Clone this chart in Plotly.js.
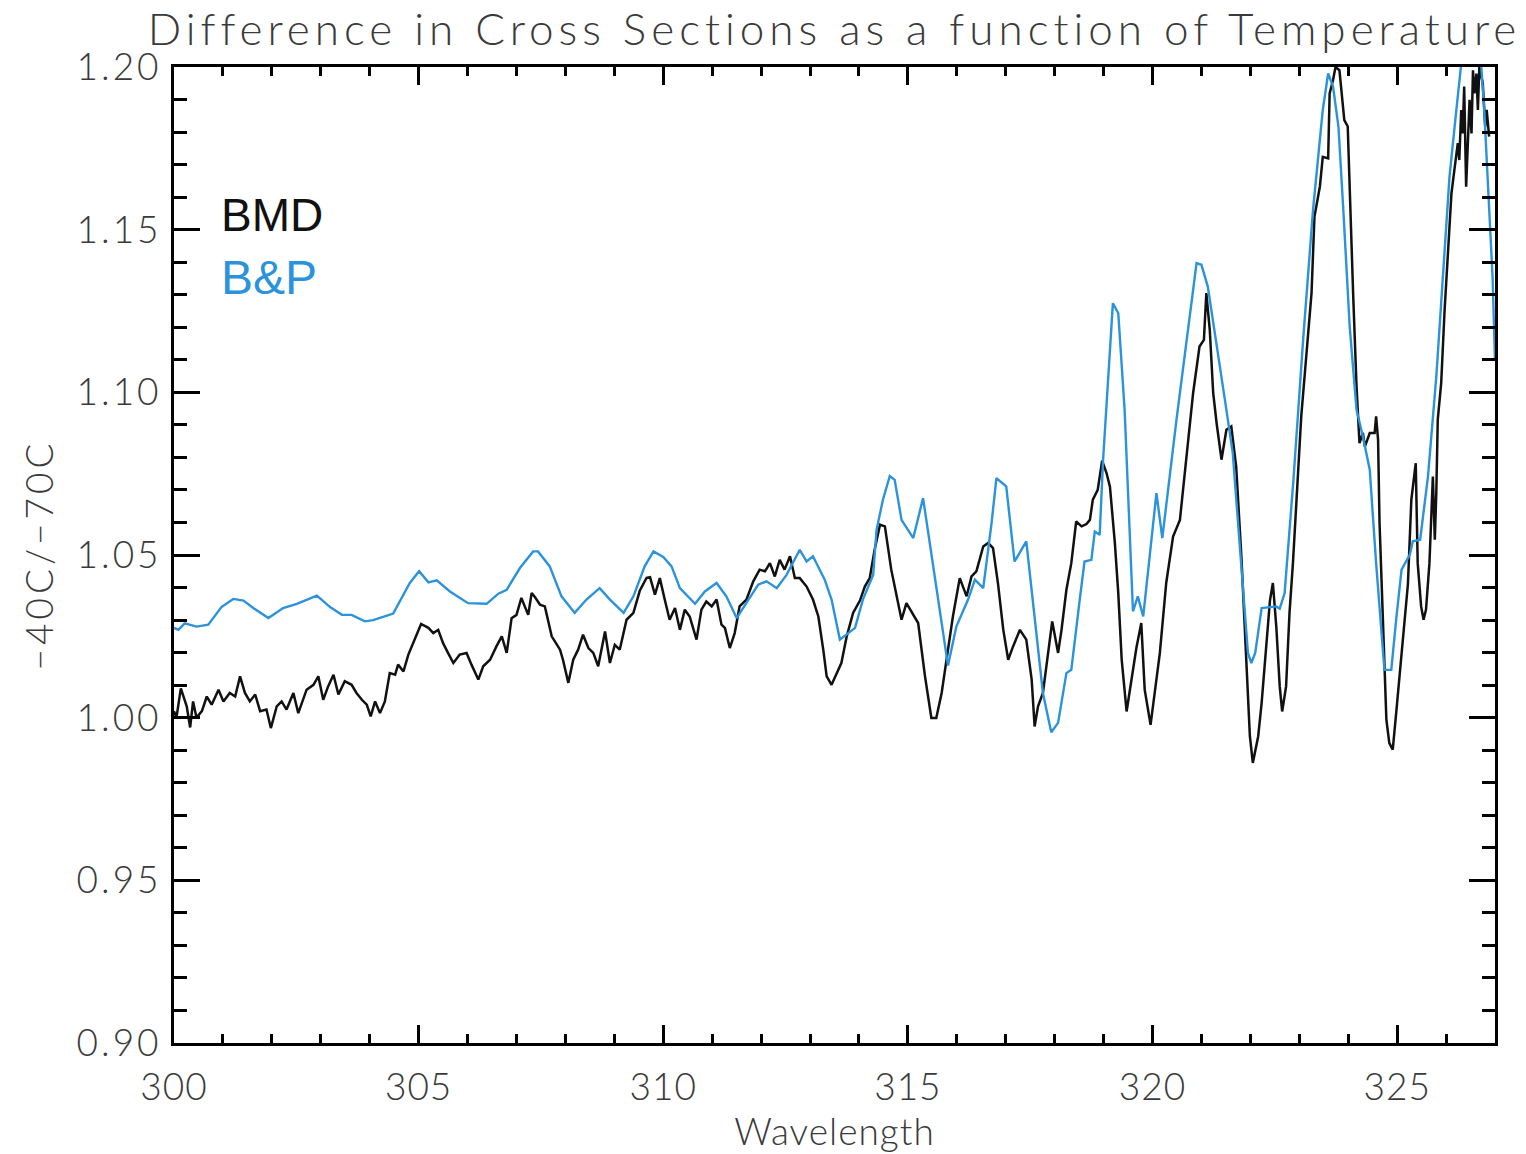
<!DOCTYPE html>
<html>
<head>
<meta charset="utf-8">
<script src="https://cdn.plot.ly/plotly-3.0.1.min.js"></script>
<style>
html,body{margin:0;padding:0;background:#fff;}
#chart{width:1526px;height:1154px;}
#chart .gtitle{letter-spacing:5px;}
#chart .ytitle{letter-spacing:4px;}
#chart .xtitle{letter-spacing:1px;}
#chart .ytick text, #chart text.ytick{letter-spacing:3px;}
#chart .xtick text, #chart text.xtick{letter-spacing:1px;}
</style>
</head>
<body>
<div id="chart"></div>
<script>
// BMD series (black)
const bmdWavelength = [
300.00,300.05,300.14,300.26,300.33,300.39,300.46,300.57,300.67,300.77,300.91,301.01,301.14,301.25,301.35,301.45,301.55,301.66,301.76,301.89,301.98,
302.10,302.20,302.30,302.44,302.54,302.71,302.85,302.95,303.05,303.15,303.26,303.36,303.49,303.63,303.73,303.84,303.94,304.02,304.11,304.21,304.31,
304.41,304.52,304.58,304.69,304.79,304.89,305.05,305.20,305.30,305.40,305.50,305.60,305.71,305.84,305.98,306.08,306.22,306.32,306.46,306.59,306.70,
306.80,306.90,307.00,307.10,307.24,307.31,307.38,307.48,307.58,307.72,307.89,307.95,308.06,308.16,308.26,308.36,308.47,308.57,308.67,308.81,308.91,
309.01,309.11,309.25,309.39,309.52,309.66,309.73,309.83,309.93,310.03,310.13,310.24,310.34,310.44,310.54,310.68,310.78,310.88,310.99,311.09,311.19,
311.26,311.36,311.46,311.56,311.70,311.84,311.97,312.08,312.18,312.28,312.38,312.48,312.59,312.69,312.79,312.93,313.06,313.17,313.27,313.34,313.44,
313.54,313.64,313.75,313.88,314.02,314.12,314.22,314.32,314.43,314.53,314.66,314.77,314.87,314.97,315.07,315.21,315.35,315.48,315.58,315.69,315.82,
315.92,316.06,316.20,316.30,316.40,316.54,316.64,316.74,316.84,316.95,317.05,317.15,317.29,317.42,317.53,317.59,317.66,317.76,317.86,317.95,318.07,
318.14,318.24,318.34,318.44,318.55,318.65,318.72,318.78,318.88,318.97,319.06,319.13,319.23,319.30,319.37,319.47,319.53,319.60,319.67,319.77,319.84,
319.96,320.04,320.15,320.28,320.42,320.56,320.69,320.83,320.96,321.05,321.10,321.17,321.24,321.31,321.41,321.51,321.61,321.71,321.82,321.92,321.99,
322.05,322.16,322.23,322.33,322.40,322.46,322.53,322.60,322.65,322.73,322.80,322.87,322.97,323.04,323.25,323.31,323.42,323.48,323.59,323.62,323.69,
323.74,323.82,323.85,323.92,323.99,324.03,324.10,324.17,324.23,324.30,324.34,324.44,324.54,324.57,324.61,324.64,324.71,324.78,324.84,324.91,324.98,
325.09,325.15,325.22,325.29,325.32,325.38,325.42,325.49,325.54,325.59,325.66,325.70,325.73,325.77,325.80,325.83,325.90,325.97,326.04,326.11,326.17,
326.24,326.27,326.31,326.34,326.37,326.41,326.44,326.48,326.52,326.55,326.58,326.62,326.65,326.68,326.75,326.80,326.83,326.88];
const bmdRatio = [
1.002,1.000,1.009,1.0035,0.997,1.005,1.000,1.002,1.0065,1.004,1.0086,1.005,1.0076,1.0065,1.0127,1.0076,1.005,1.0071,1.002,1.0025,0.9968,
1.0035,1.005,1.0025,1.0076,1.0014,1.0086,1.0101,1.0127,1.0055,1.0096,1.0132,1.0071,1.0112,1.0101,1.0076,1.0055,1.004,1.0004,1.005,1.0014,1.005,
1.0137,1.0132,1.0163,1.0142,1.0194,1.0229,1.0288,1.0276,1.026,1.027,1.0229,1.0199,1.0168,1.0194,1.0199,1.0163,1.0117,1.0158,1.0178,1.0219,1.025,
1.0199,1.0306,1.0316,1.0368,1.0316,1.0383,1.037,1.0347,1.0342,1.025,1.0209,1.0178,1.0107,1.0178,1.0209,1.0255,1.0214,1.0199,1.0158,1.0265,1.0168,
1.0224,1.0209,1.0301,1.0322,1.039,1.043,1.0432,1.0378,1.0429,1.0363,1.0301,1.0337,1.027,1.0332,1.0311,1.024,1.0332,1.0357,1.0342,1.0363,1.0286,
1.0276,1.0214,1.026,1.0342,1.0363,1.0419,1.0455,1.045,1.0475,1.0434,1.0485,1.0455,1.0496,1.0429,1.0429,1.0403,1.0363,1.0311,1.0209,1.0127,1.0101,
1.0137,1.0168,1.025,1.0322,1.036,1.0403,1.0429,1.0516,1.0593,1.0588,1.0455,1.0373,1.0301,1.0352,1.0327,1.0291,1.0127,0.9999,0.9999,1.0076,1.0209,
1.0311,1.0429,1.0373,1.0434,1.045,1.0526,1.0537,1.0521,1.0414,1.027,1.0178,1.0219,1.027,1.024,1.0117,0.9973,1.0035,1.0076,1.0199,1.0296,1.0199,
1.027,1.0393,1.0475,1.0603,1.0588,1.0595,1.0608,1.067,1.070,1.079,1.0752,1.071,1.0537,1.0383,1.0178,1.0019,1.0076,1.0147,1.0214,1.0291,1.0086,
0.9978,1.0076,1.0199,1.0414,1.0557,1.0608,1.0803,1.0998,1.1141,1.1161,1.1305,1.1192,1.0998,1.0905,1.0793,1.0885,1.0895,1.0772,1.0485,1.0178,0.9943,
0.9861,0.9943,1.0045,1.024,1.036,1.0414,1.028,1.0096,1.0019,1.0096,1.0322,1.0475,1.0731,1.0926,1.1305,1.154,1.1632,1.1724,1.1719,1.1919,1.196,
1.2,1.199,1.194,1.1837,1.1817,1.1612,1.1305,1.1018,1.0844,1.0875,1.0833,1.0875,1.0875,1.0926,1.0854,1.060,1.0322,0.9994,0.9922,0.9902,1.0014,
1.0199,1.030,1.041,1.067,1.071,1.0782,1.0475,1.0342,1.0301,1.0332,1.0475,1.063,1.0741,1.0547,1.069,1.0916,1.1028,1.1253,1.1448,1.1612,1.1684,
1.1766,1.1714,1.1868,1.1796,1.194,1.1632,1.1735,1.1899,1.1796,1.199,1.1919,1.198,1.1868,1.2,1.195,1.1817,1.1868,1.1786];

// B&P series (blue)
const bpWavelength = [
300.00,300.09,300.22,300.46,300.70,300.97,301.21,301.42,301.62,301.93,302.23,302.51,302.92,303.19,303.43,303.63,303.90,304.07,304.48,304.65,304.82,
305.01,305.20,305.37,305.64,306.01,306.39,306.63,306.80,307.07,307.34,307.44,307.68,307.92,308.19,308.43,308.70,308.91,309.19,309.39,309.62,309.80,
310.00,310.17,310.34,310.65,310.85,311.09,311.29,311.50,311.70,311.94,312.11,312.32,312.52,312.79,312.93,313.06,313.30,313.44,313.61,313.92,314.08,
314.29,314.36,314.49,314.63,314.73,314.87,315.11,315.31,315.75,315.82,315.99,316.23,316.37,316.54,316.71,316.81,317.01,317.18,317.42,317.76,317.93,
318.07,318.24,318.34,318.51,318.61,318.75,318.82,318.92,318.99,319.19,319.30,319.43,319.60,319.70,319.81,320.08,320.20,320.49,320.69,320.90,321.00,
321.13,321.51,321.64,321.95,322.02,322.10,322.23,322.53,322.60,322.70,322.80,322.88,323.08,323.28,323.48,323.59,323.69,323.80,323.90,324.03,324.17,
324.30,324.44,324.57,324.74,324.88,324.98,325.09,325.26,325.32,325.47,325.63,325.80,325.94,326.07,326.21,326.31,326.50,326.72,326.78,326.85,326.95,327.00];
const bpRatio = [
1.0276,1.027,1.029,1.028,1.0286,1.034,1.0365,1.036,1.0337,1.0306,1.0337,1.035,1.0375,1.034,1.0316,1.0316,1.0296,1.030,1.032,1.0365,1.0414,
1.045,1.0416,1.0422,1.0388,1.0352,1.035,1.0381,1.0393,1.046,1.0511,1.0511,1.0465,1.0373,1.0322,1.0363,1.0398,1.0363,1.0322,1.0373,1.0465,1.0511,
1.0494,1.0465,1.0398,1.035,1.0388,1.0414,1.0373,1.0306,1.0352,1.0409,1.0419,1.0398,1.0439,1.0516,1.048,1.0496,1.0424,1.0363,1.024,1.0276,1.0363,
1.0439,1.0578,1.067,1.0743,1.0731,1.0608,1.0552,1.0675,1.0219,1.016,1.028,1.0363,1.0424,1.0398,1.0598,1.0736,1.0711,1.048,1.0542,1.0076,0.9955,
0.9984,1.0137,1.0147,1.036,1.048,1.0485,1.0572,1.0562,1.0793,1.1274,1.1243,1.0946,1.0327,1.0373,1.0311,1.069,1.0552,1.0916,1.1151,1.1397,1.1392,
1.1325,1.0946,1.0813,1.0199,1.0168,1.020,1.0337,1.0342,1.0335,1.0383,1.0578,1.0731,1.1165,1.156,1.1868,1.198,1.194,1.1817,1.156,1.1202,1.0946,
1.0864,1.0762,1.0475,1.0147,1.0147,1.0301,1.0455,1.0501,1.0542,1.0547,1.0741,1.1048,1.1356,1.1663,1.1868,1.201,1.215,1.2,1.1868,1.1663,1.1356,1.11];

const xTickVals = [300, 305, 310, 315, 320, 325];
const yTickVals = [0.90, 0.95, 1.00, 1.05, 1.10, 1.15, 1.20];

const labelFont = {family: 'Lato, "Noto Sans", sans-serif', size: 37, color: '#3a3a3a', weight: 300};

const traces = [
  {x: bmdWavelength, y: bmdRatio, type: 'scatter', mode: 'lines', name: 'BMD',
   line: {color: '#111111', width: 2.5}},
  {x: bpWavelength, y: bpRatio, type: 'scatter', mode: 'lines', name: 'B&P',
   line: {color: '#2a93dc', width: 2.4}}
];

const layout = {
  width: 1526, height: 1154,
  paper_bgcolor: '#ffffff', plot_bgcolor: '#ffffff',
  margin: {l: 174, r: 31, t: 67, b: 111, pad: 0},
  showlegend: false,
  title: {text: 'Difference in Cross Sections as a function of Temperature',
          font: {family: 'Lato, "Noto Sans", sans-serif', size: 44, color: '#3a3a3a', weight: 300},
          x: 0.5, xref: 'paper', xanchor: 'center', y: 0.974, yref: 'container', yanchor: 'middle'},
  xaxis: {
    range: [300, 327], tickvals: xTickVals, ticktext: xTickVals.map(String),
    showgrid: false, zeroline: false,
    showline: true, linecolor: '#000', linewidth: 3, mirror: 'ticks',
    ticks: 'inside', ticklen: 18, tickwidth: 3, tickcolor: '#000',
    minor: {dtick: 1, tick0: 300, ticks: 'inside', ticklen: 9, tickwidth: 3, tickcolor: '#000', showgrid: false},
    tickfont: labelFont, ticklabelstandoff: 10,
    title: {text: 'Wavelength', font: labelFont, standoff: 10}
  },
  yaxis: {
    range: [0.90, 1.20], tickvals: yTickVals, ticktext: yTickVals.map(v => v.toFixed(2)),
    showgrid: false, zeroline: false,
    showline: true, linecolor: '#000', linewidth: 3, mirror: 'ticks',
    ticks: 'inside', ticklen: 26, tickwidth: 3, tickcolor: '#000',
    minor: {dtick: 0.01, tick0: 0.90, ticks: 'inside', ticklen: 13, tickwidth: 3, tickcolor: '#000', showgrid: false},
    tickfont: labelFont, ticklabelstandoff: 2,
    title: {text: '\u221240C/\u221270C', font: labelFont, standoff: 24}
  },
  annotations: [
    {text: 'BMD', xref: 'paper', yref: 'paper', x: 0.034, y: 0.848, xanchor: 'left', yanchor: 'middle',
     showarrow: false, font: {family: '"Liberation Sans", Arial, sans-serif', size: 46, color: '#111111'}},
    {text: 'B&amp;P', xref: 'paper', yref: 'paper', x: 0.034, y: 0.784, xanchor: 'left', yanchor: 'middle',
     showarrow: false, font: {family: '"Liberation Sans", Arial, sans-serif', size: 48, color: '#2a93dc'}}
  ]
};

Plotly.newPlot('chart', traces, layout, {displayModeBar: false, staticPlot: true});
</script>
</body>
</html>
